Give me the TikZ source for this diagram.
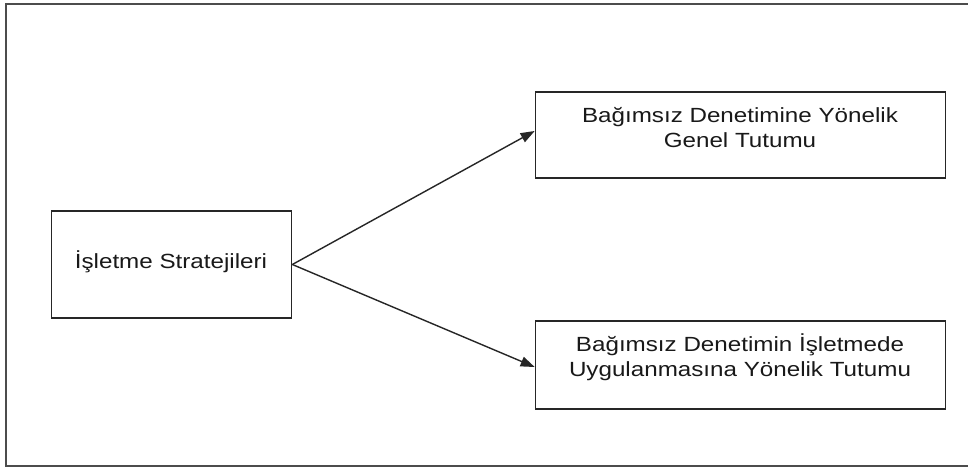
\documentclass[tikz,border=0pt]{standalone}
\usepackage{fontspec}
\setmainfont[FakeStretch=1.18]{Liberation Sans}
\usetikzlibrary{arrows.meta,calc}
\begin{document}
\begin{tikzpicture}[x=1pt,y=-1pt,
  box/.style={draw=black!85,line width=1.3pt,inner sep=0pt},
  lbl/.style={inner sep=0pt,align=center,font=\fontsize{20.5}{25}\selectfont,text=black!90},
  conn/.style={draw=black!85,line width=1.4pt,-{Triangle[length=14pt,width=10pt]}},
  frame/.style={draw=black!70,line width=2pt}]
\clip (0,0) rectangle (968,470);
\fill[white] (0,0) rectangle (968,470);
\draw[frame] (1100,4) -- (6,4) -- (6,466) -- (1100,466);
\node[box,minimum width=240pt,minimum height=107pt] (src) at (171.7,264.5) {};
\node[box,minimum width=410pt,minimum height=86pt] (tr) at (740.3,135) {};
\node[box,minimum width=410pt,minimum height=88pt] (br) at (740.3,365) {};
\node[lbl,anchor=base] (srct) at (171,268.3) {İşletme Stratejileri};
\node[lbl,anchor=base] (trt) at (740,147.7) {Bağımsız Denetimine Yönelik\\Genel Tutumu};
\node[lbl,anchor=base] (brt) at (740,376.7) {Bağımsız Denetimin İşletmede\\Uygulanmasına Yönelik Tutumu};
\draw[conn] (src.east) -- ($(tr.west)+(0,-4)$);
\draw[conn] (src.east) -- ($(br.west)+(0,2)$);
\end{tikzpicture}
\end{document}
